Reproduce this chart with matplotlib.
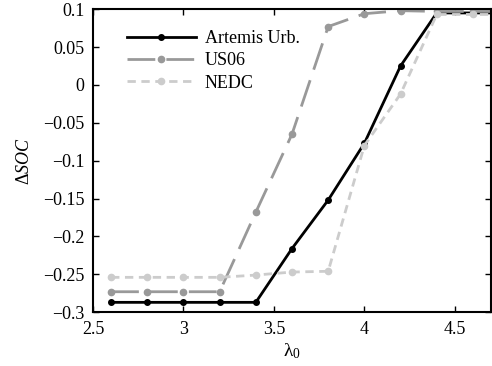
import matplotlib
matplotlib.use("Agg")
import matplotlib.pyplot as plt

lam = [2.6, 2.8, 3.0, 3.2, 3.4, 3.6, 3.8, 4.0, 4.2, 4.4, 4.6, 4.8]
artemis = [-0.287, -0.287, -0.287, -0.287, -0.287, -0.216, -0.152, -0.077, 0.025, 0.095, 0.095, 0.095]
us06 = [-0.273, -0.273, -0.273, -0.273, -0.168, -0.065, 0.077, 0.094, 0.098, 0.097, 0.097, 0.097]
nedc = [-0.254, -0.254, -0.254, -0.254, -0.251, -0.247, -0.246, -0.080, -0.012, 0.093, 0.093, 0.093]

plt.rcParams['font.family'] = ['Liberation Serif', 'DejaVu Serif']
plt.rcParams['mathtext.fontset'] = 'custom'
plt.rcParams['mathtext.rm'] = 'Liberation Serif'
plt.rcParams['mathtext.it'] = 'Liberation Serif:italic'

fig = plt.figure(figsize=(4.92, 3.66), dpi=100)
ax = fig.add_axes([0.189, 0.147, 0.809, 0.828])

ax.plot(lam, artemis, color='black', lw=2, marker='o', ms=4, label='Artemis Urb.')
ax.plot(lam, us06, color='#999999', lw=2, ls=(0, (10, 4)), marker='o', ms=4.5, label='US06')
ax.plot(lam, nedc, color='#cccccc', lw=2, ls=(0, (3, 2)), marker='o', ms=4.5, label='NEDC')

ax.set_xlim(2.5, 4.7)
ax.set_ylim(-0.3, 0.1)
ax.set_xticks([2.5, 3, 3.5, 4, 4.5])
ax.set_xticklabels(['2.5', '3', '3.5', '4', '4.5'])
ax.set_yticks([-0.3, -0.25, -0.2, -0.15, -0.1, -0.05, 0, 0.05, 0.1])
ax.set_yticklabels(['\u22120.3', '\u22120.25', '\u22120.2', '\u22120.15', '\u22120.1', '\u22120.05', '0', '0.05', '0.1'])
ax.tick_params(direction='in', top=True, right=True, labelsize=13, length=4, width=1, pad=6)
for s in ax.spines.values():
    s.set_linewidth(1.5)

ax.set_xlabel(r'$\mathrm{\lambda}_0$', fontsize=14, labelpad=3)
ax.set_ylabel(r'$\Delta \mathit{SOC}$', fontsize=13, labelpad=7)

ax.legend(loc='upper left', frameon=False, fontsize=13, handlelength=3.8,
          bbox_to_anchor=(0.045, 0.985), labelspacing=0.3, handletextpad=0.5)

fig.savefig('out.png', dpi=100)
